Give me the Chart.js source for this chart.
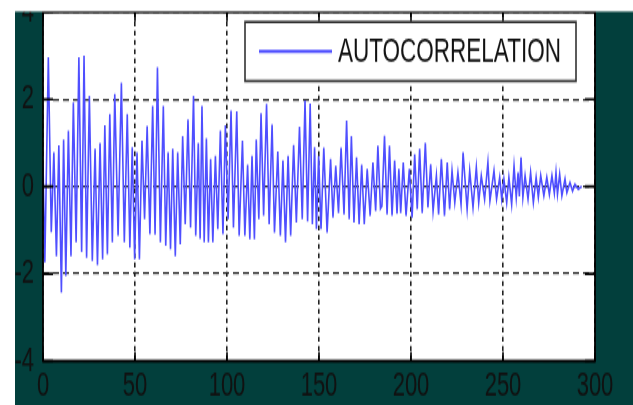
<!DOCTYPE html>
<html>
<head>
<meta charset="utf-8">
<script src="https://cdn.jsdelivr.net/npm/chart.js@4/dist/chart.umd.min.js"></script>
<style>
html,body{margin:0;padding:0;background:#fff;overflow:hidden;}
#wrap{position:absolute;left:0;top:0;width:633px;height:262px;transform-origin:0 0;transform:scaleY(1.5458);}
canvas{display:block;}
</style>
</head>
<body>
<div id="wrap"><canvas id="c" width="633" height="262"></canvas></div>
<script>
const seriesLabel = 'AUTOCORRELATION';
const xTicks = [0, 50, 100, 150, 200, 250, 300];
const yTicks = [-4, -2, 0, 2, 4];
const lags = [
0,1,2.9,4.5,5.9,7.3,8.6,10,11.2,12.4,13.8,15.2,16.5,18,19.5,21,22.3,23.7,25.2,26.8,
28.3,29.6,31,32.4,33.6,35,36.3,37.7,39,40.8,42.6,44.2,45.8,47.2,48.5,49.8,51.1,52.4,53.8,55.2,
56.6,58.1,59.6,60.9,62.2,63.8,65.4,66.7,68,69.3,70.5,71.9,73.2,74.6,75.9,77.3,78.8,80.2,81.8,83,
84.4,85.4,86.4,87.6,88.8,89.9,91.1,92.3,93.7,95,96.4,97.8,99.1,100.6,102.2,103.5,105.3,106.6,108.4,109.7,
111.2,112.4,113.6,114.9,115.9,117.3,118.5,119.9,121.5,122.9,124.5,125.8,127.6,129,130.4,131.8,133.2,134.6,136.2,137.7,
139.4,140.9,142.4,143.8,145.2,146.4,147.6,148.6,149.8,151.1,152.6,154.4,156.3,157.6,159.1,160.6,162,163.6,165,166.4,
167.6,169,170.4,171.8,173.2,174.6,176.2,177.8,179.3,180.8,182,183.4,184.2,185.6,187,188.3,189.7,191.1,192.4,193.4,
194.4,195.8,197.3,199.1,200.6,202,203.4,204.7,206.1,207.8,209.2,210.7,212,213.8,215,216.5,218.2,219.7,221,222.3,
223.8,225.5,227.2,228.3,230.5,231.9,233.7,235.5,236.8,238.2,240,241.8,242.9,245.1,246.5,248.2,249.3,250.5,252,253.2,
254.7,256,257.2,258.2,258.9,259.8,260.8,262,263.6,265,266.5,268,269.2,270.5,272.2,273.8,275.2,276.6,277.9,278.8,
279.6,280.8,282,283.7,284.7,286.4,287.8,289.1,290.9,292.8
];
const acf = [
0.55,-1.74,2.96,-1.05,0.78,-1.6,0.94,-2.43,1.08,-2.05,1.28,-1.6,1.93,-1.28,2.96,-1.5,3.0,-1.63,2.08,-1.7,
0.86,-1.8,1.0,-1.67,1.4,-1.55,1.66,-1.28,2.12,-1.13,2.38,-1.28,1.66,-1.4,0.9,-1.67,0.78,-1.67,1.05,-0.75,
1.39,-1.09,1.85,-1.1,2.73,-1.28,1.85,-1.36,0.78,-1.44,0.86,-1.6,0.78,-1.32,1.16,-0.86,1.54,-0.94,2.08,-1.13,
1.0,-1.2,1.85,-1.28,1.1,-1.28,0.63,-1.28,0.7,-0.98,1.28,-1.09,1.4,-0.75,1.74,-0.94,1.72,-1.13,1.05,-1.13,
0.5,-1.21,0.7,-1.21,1.08,-0.75,1.68,-0.67,1.89,-0.86,1.42,-1.06,0.8,-1.13,0.6,-1.28,0.7,-1.13,0.95,-0.83,
1.37,-0.75,1.97,-0.8,1.9,-0.86,0.9,-0.98,0.7,-0.98,0.89,-1.06,0.63,-0.71,0.47,-0.6,0.89,-0.64,1.51,-0.75,
1.16,-0.83,0.67,-0.86,0.5,-0.86,0.4,-0.67,0.55,-0.56,0.93,-0.5,-0.44,1.16,-0.64,0.93,-0.67,0.6,-0.62,0.4,
-0.6,0.55,-0.67,0.4,-0.71,0.74,-0.52,0.86,-0.6,1.0,-0.48,0.51,-0.56,0.25,-0.64,0.63,-0.67,0.55,-0.52,0.36,
-0.37,0.32,-0.41,0.78,-0.52,0.36,-0.48,0.44,-0.37,0.25,-0.29,0.55,-0.33,0.36,-0.29,0.21,-0.29,0.17,-0.37,0.21,
-0.41,0.47,-0.25,0.32,-0.22,0.67,-0.25,0.25,-0.29,0.32,-0.37,0.21,-0.25,0.25,-0.21,0.21,-0.18,0.25,-0.15,0.32,
-0.18,0.28,-0.21,0.17,-0.14,0.09,-0.1,0.05,-0.06,0
];

const S = 405 / 262;
const TEAL = '#023f3c';
const LINE = '#4f4fff';

const decor = {
  id: 'decor',
  beforeDraw(c) {
    const ctx = c.ctx, a = c.chartArea;
    ctx.save();
    ctx.fillStyle = TEAL;
    ctx.fillRect(0, 0, c.width, c.height);
    ctx.fillStyle = '#ffffff';
    ctx.fillRect(a.left, a.top, a.right - a.left, a.bottom - a.top);
    ctx.restore();
  },
  afterDatasetsDraw(c) {
    const ctx = c.ctx, a = c.chartArea, xs = c.scales.x, ys = c.scales.y;
    ctx.save();
    ctx.strokeStyle = '#000';
    ctx.lineWidth = 1.6;
    ctx.beginPath();
    xTicks.forEach(v => {
      const p = xs.getPixelForValue(v);
      ctx.moveTo(p, a.bottom); ctx.lineTo(p, a.bottom - 6);
      ctx.moveTo(p, a.top); ctx.lineTo(p, a.top + 6);
    });
    yTicks.forEach(v => {
      const p = ys.getPixelForValue(v);
      ctx.moveTo(a.left, p); ctx.lineTo(a.left + 10, p);
      ctx.moveTo(a.right, p); ctx.lineTo(a.right - 10, p);
    });
    ctx.stroke();
    ctx.lineWidth = 1.8;
    ctx.strokeRect(a.left, a.top, a.right - a.left, a.bottom - a.top);
    // legend box
    const lx = 245, ly = 14.2, lw = 331, lh = 38.2;
    ctx.fillStyle = '#fff';
    ctx.fillRect(lx, ly, lw, lh);
    ctx.strokeStyle = '#333';
    ctx.lineWidth = 1.6;
    ctx.strokeRect(lx, ly, lw, lh);
    const ds = c.data.datasets[0];
    ctx.strokeStyle = '#4a4aff';
    ctx.lineWidth = 2;
    ctx.beginPath();
    ctx.moveTo(259, 33.2); ctx.lineTo(332, 33.2);
    ctx.stroke();
    ctx.fillStyle = '#111';
    ctx.font = '22.5px "Liberation Sans", Arial, sans-serif';
    ctx.textBaseline = 'middle';
    ctx.textAlign = 'left';
    ctx.fillText(ds.label, 338, 34);
    ctx.restore();
  },
  afterDraw(c) {
    const ctx = c.ctx;
    ctx.save();
    ctx.fillStyle = '#ffffff';
    ctx.fillRect(0, 0, c.width, 11.5 / S);
    ctx.fillRect(0, 0, 15, c.height);
    ctx.restore();
  }
};

new Chart(document.getElementById('c'), {
  type: 'line',
  data: {
    datasets: [{
      label: seriesLabel,
      data: lags.map((x, i) => ({ x: x, y: acf[i] })),
      borderColor: LINE,
      borderWidth: 1.6,
      pointRadius: 0,
      tension: 0,
      fill: false
    }]
  },
  options: {
    responsive: false,
    animation: false,
    devicePixelRatio: 1,
    layout: { padding: { left: 0, right: 38, top: 12 / S, bottom: 0 } },
    plugins: { legend: { display: false }, tooltip: { enabled: false } },
    scales: {
      x: {
        type: 'linear',
        min: 0, max: 300,
        afterBuildTicks(s) { s.ticks = xTicks.map(v => ({ value: v })); },
        afterFit(s) { s.height = 262 - 361 / S; s.paddingLeft = 0; s.paddingRight = 0; },
        ticks: { font: { family: '"Liberation Sans", Arial, sans-serif', size: 22 }, color: '#111', padding: 3.5, maxRotation: 0, autoSkip: false },
        grid: { color: '#222', lineWidth: 1.6, drawTicks: false },
        border: { display: false, dash: [3.2, 2.8] }
      },
      y: {
        min: -4, max: 4,
        afterBuildTicks(s) { s.ticks = yTicks.map(v => ({ value: v })); },
        afterFit(s) { s.width = 43; s.paddingTop = 0; s.paddingBottom = 0; },
        ticks: { font: { family: '"Liberation Sans", Arial, sans-serif', size: 22 }, color: '#111', padding: 9, autoSkip: false },
        grid: { color: '#222', lineWidth: 1.3, drawTicks: false },
        border: { display: false, dash: [6, 4] }
      }
    }
  },
  plugins: [decor]
});
</script>
</body>
</html>
